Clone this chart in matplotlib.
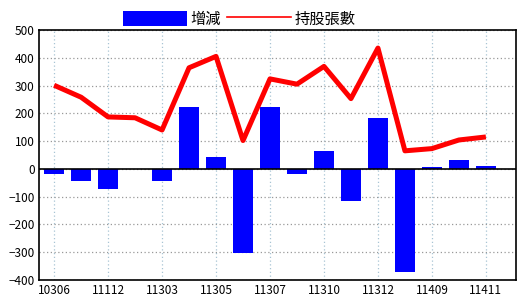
import numpy as np
import matplotlib
matplotlib.use('Agg')
import matplotlib.pyplot as plt
from matplotlib.lines import Line2D
from matplotlib.patches import Patch

plt.rcParams['font.family'] = ['Noto Sans CJK TC', 'DejaVu Sans']

# Data
months = ['10306', '11011', '11112', '11302', '11303', '11304', '11305', '11306',
          '11307', '11309', '11310', '11311', '11312', '11408', '11409', '11410', '11411']
change = [-20, -43, -71, -1, -42, 223, 41, -303, 222, -19, 64, -116, 182, -370, 8, 31, 11]
shares = [301, 258, 187, 184, 140, 364, 405, 102, 324, 305, 369, 253, 435, 65, 73, 104, 115]

x = np.arange(len(months))

fig = plt.figure(figsize=(5.2, 3.0), dpi=100)
ax = fig.add_axes([0.075, 0.0667, 0.917, 0.8333])

ax.bar(x, change, width=0.74, color='#0000ff', zorder=3)
ax.axhline(0, color='black', lw=1.2, zorder=4)
ax.plot(x, shares, color='#ff0000', lw=3.6, zorder=5, solid_capstyle='butt')

ax.set_xlim(-0.56, 17.11)
ax.set_ylim(-400, 500)
ax.set_yticks(np.arange(-400, 501, 100))
ax.set_xticks(x[::2])
ax.set_xticklabels(months[::2])

ax.grid(axis='y', color='#999999', ls=(0, (1, 2)), lw=0.9, zorder=1)
ax.grid(axis='x', color='#a8c4d4', ls=(0, (1, 2)), lw=0.9, zorder=1)
ax.tick_params(length=0, labelsize=8.5, pad=3)
for s in ax.spines.values():
    s.set_linewidth(1.2)

handles = [Patch(facecolor='#0000ff', label='增減'),
           Line2D([0], [0], color='#ff0000', lw=1.2, label='持股張數')]
fig.legend(handles=handles, loc='upper center', bbox_to_anchor=(0.46, 1.01), ncol=2,
           frameon=False, fontsize=11, handlelength=4.2, handleheight=1.1,
           handletextpad=0.2, columnspacing=0.4)

fig.savefig('out.png', dpi=100)
